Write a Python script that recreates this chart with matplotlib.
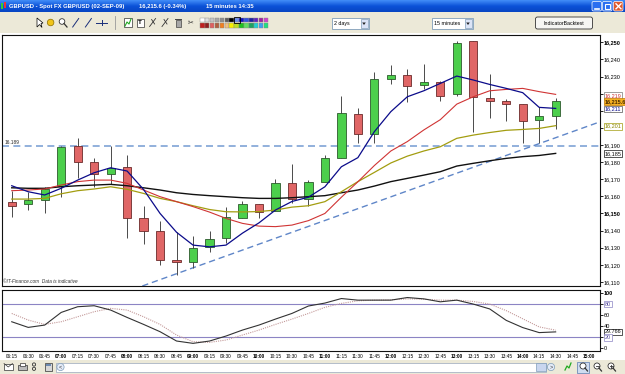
import numpy as np
import matplotlib
matplotlib.use('Agg')
import matplotlib.pyplot as plt
from matplotlib.patches import Rectangle, FancyBboxPatch, Circle, Polygon
from matplotlib.colors import LinearSegmentedColormap

plt.rcParams['font.family'] = ['Liberation Sans', 'DejaVu Sans']

# GBP/USD spot, 15 minute bars, 02-SEP-09
times = ['06:15', '06:30', '06:45', '07:00', '07:15', '07:30', '07:45', '08:00', '08:15',
         '08:30', '08:45', '09:00', '09:15', '09:30', '09:45', '10:00', '10:15', '10:30',
         '10:45', '11:00', '11:15', '11:30', '11:45', '12:00', '12:15', '12:30', '12:45',
         '13:00', '13:15', '13:30', '13:45', '14:00', '14:15', '14:30', '14:45', '15:00']
opens = [16156.9, 16155.3, 16157.6, 16166.0, 16189.4, 16179.8, 16172.8, 16177.1, 16147.1,
         16139.7, 16122.8, 16121.4, 16130.4, 16135.4, 16147.1, 16155.3, 16151.6, 16168.0,
         16158.2, 16168.6, 16182.2, 16208.1, 16196.2, 16228.4, 16230.7, 16224.9, 16226.6,
         16219.6, 16250.8, 16217.6, 16215.7, 16213.9, 16204.4, 16206.7]
closes = [16154.5, 16157.6, 16164.3, 16189.0, 16180.2, 16173.0, 16176.7, 16147.5, 16139.5,
          16123.0, 16121.4, 16129.6, 16135.0, 16147.7, 16155.3, 16151.0, 16167.6, 16158.2,
          16168.6, 16182.2, 16208.5, 16196.4, 16228.4, 16230.7, 16224.5, 16227.0, 16218.8,
          16249.4, 16217.8, 16215.5, 16213.8, 16203.8, 16206.7, 16215.6]
highs = [16163.1, 16162.3, 16165.6, 16189.5, 16193.9, 16182.6, 16189.2, 16184.1, 16154.3,
         16145.6, 16139.1, 16137.0, 16139.7, 16153.9, 16157.4, 16155.3, 16170.1, 16178.7,
         16169.5, 16184.1, 16218.8, 16211.4, 16232.5, 16236.7, 16234.4, 16237.3, 16227.6,
         16250.8, 16250.8, 16231.3, 16216.7, 16213.9, 16212.0, 16217.3]
lows = [16148.1, 16152.0, 16150.0, 16159.8, 16170.5, 16165.6, 16167.0, 16135.4, 16131.9,
        16119.8, 16114.0, 16118.3, 16127.6, 16132.5, 16147.1, 16147.5, 16151.6, 16155.9,
        16154.3, 16168.6, 16182.2, 16190.9, 16191.0, 16225.4, 16215.3, 16222.9, 16215.9,
        16218.4, 16197.8, 16205.9, 16204.2, 16191.0, 16191.0, 16199.3]

# moving averages as drawn on the chart
ma_blue = [16166.2, 16162.7, 16160.8, 16164.7, 16169.5, 16173.8, 16176.7, 16174.8, 16164.0,
           16150.0, 16139.0, 16131.5, 16130.5, 16131.5, 16138.5, 16144.5, 16152.0, 16157.0,
           16159.5, 16165.6, 16177.3, 16182.6, 16197.8, 16209.5, 16218.2, 16221.7, 16226.0,
           16230.3, 16228.0, 16225.4, 16223.1, 16220.6, 16212.0, 16211.4]
ma_red = [16163.3, 16163.7, 16164.3, 16166.6, 16168.6, 16169.5, 16169.5, 16167.6, 16163.7,
          16159.8, 16156.9, 16154.0, 16150.8, 16147.1, 16144.2, 16142.6, 16142.3, 16143.2,
          16145.8, 16150.0, 16159.5, 16168.5, 16178.0, 16186.5, 16192.0, 16198.8, 16204.8,
          16213.9, 16218.2, 16221.7, 16222.5, 16223.1, 16221.2, 16219.6]
ma_olive = [16158.4, 16158.4, 16158.8, 16161.5, 16163.3, 16164.3, 16165.6, 16164.1, 16161.7,
            16158.8, 16156.9, 16154.5, 16152.3, 16151.0, 16150.9, 16151.1, 16152.0, 16153.7,
            16154.5, 16156.9, 16162.7, 16168.6, 16174.0, 16179.5, 16183.5, 16186.5, 16189.0,
            16193.9, 16195.8, 16197.3, 16198.6, 16199.1, 16199.7, 16201.3]
ma_black = [16165.0, 16164.7, 16164.7, 16165.6, 16166.2, 16166.6, 16167.0, 16166.2, 16165.0,
            16163.7, 16162.1, 16161.1, 16160.4, 16159.8, 16159.2, 16158.8, 16158.8, 16159.2,
            16159.8, 16160.4, 16162.1, 16163.7, 16166.0, 16168.6, 16170.5, 16172.4, 16174.4,
            16177.7, 16179.3, 16180.8, 16182.2, 16183.2, 16183.9, 16185.1]

# stochastic panel
stoch_k = [48.1, 37.9, 42.1, 64.9, 75.2, 77.0, 69.2, 55.9, 43.3, 30.1, 13.3, 9.1, 13.3, 22.3,
           33.1, 42.1, 52.9, 63.1, 76.5, 81.8, 90.0, 87.1, 87.1, 87.1, 91.8, 89.4, 84.1, 87.1,
           80.0, 71.2, 50.6, 37.6, 28.5, 29.8]
stoch_d = [63.1, 51.1, 43.3, 48.1, 57.1, 66.2, 72.2, 69.2, 57.1, 43.3, 24.1, 12.1, 10.9, 15.1,
           24.1, 33.1, 43.3, 52.9, 63.1, 74.1, 81.2, 85.9, 87.1, 87.6, 89.4, 88.8, 87.1, 87.1,
           84.7, 80.0, 68.2, 53.5, 38.8, 32.9]

# drawn lines
hline_level = 16189.6
trend_idx = [17.5, 35.7]
trend_price = [16140.7, 16203.6]
price_ticks = list(range(16110, 16251, 10))
value_tags = [(16219, '16,219'), (16215.6, '16,215.6'), (16211, '16,211'),
              (16201, '16,201'), (16185, '16,185')]
stoch_ticks = [0, 20, 40, 60, 80, 100]

W, H = 625, 374
XLIM = (-0.59, 35.69)


def rect(x0, y0, x1, y1):
    # pixel box, origin top-left -> figure fraction
    return [x0 / W, 1 - y1 / H, (x1 - x0) / W, (y1 - y0) / H]


def chrome(bg):
    # title bar
    cmap = LinearSegmentedColormap.from_list('xp', ['#3f8af6', '#0c52d8', '#0846c4'])
    bg.imshow(np.linspace(0, 1, 12).reshape(-1, 1), extent=[0, W, 12, 0], aspect='auto', cmap=cmap)
    bg.add_patch(Rectangle((1, 3), 2, 6, fc='#33cc33', ec='none'))
    bg.add_patch(Rectangle((4, 2), 2, 6, fc='#ee3333', ec='none'))
    bg.text(9, 6.2, 'GBPUSD - Spot FX GBP/USD (02-SEP-09)', color='white', fontsize=4.2,
            weight='bold', va='center')
    bg.text(139, 6.2, '16,215.6 (-0.34%)', color='white', fontsize=4.2, weight='bold', va='center')
    bg.text(206, 6.2, '15 minutes 14:35', color='white', fontsize=4.2, weight='bold', va='center')
    for x0, fc in [(592, '#2b6ff0'), (602.5, '#2b6ff0'), (613.5, '#e05a2c')]:
        bg.add_patch(FancyBboxPatch((x0, 1.5), 9.5, 9.5, boxstyle='round,pad=0,rounding_size=1.5',
                                    fc=fc, ec='white', lw=0.5))
    bg.plot([594.5, 598.5], [8.8, 8.8], color='white', lw=1.2)
    bg.add_patch(Rectangle((604.8, 3.8), 5, 5, fc='none', ec='white', lw=0.8))
    bg.plot([616, 621], [3.8, 8.8], color='white', lw=1)
    bg.plot([616, 621], [8.8, 3.8], color='white', lw=1)

    # toolbar
    bg.add_patch(Rectangle((0, 12), W, 21, fc='#ece9d8', ec='none'))
    bg.add_patch(Polygon([(37, 18), (37, 27), (39.5, 24.5), (42, 27.5), (41, 23.5), (43, 23)],
                         fc='white', ec='black', lw=0.5))
    bg.add_patch(Circle((50.6, 22.5), 3.3, fc='#f0c419', ec='#8a6d00', lw=0.5))
    bg.add_patch(Circle((62, 21.5), 2.8, fc='white', ec='#333', lw=0.6))
    bg.plot([64, 67], [23.5, 27], color='#333', lw=0.9)
    for xc in (75.7, 88.4):
        bg.plot([xc - 3, xc + 3], [27, 18.5], color='#1a2f7a', lw=0.7)
    bg.plot([96, 107], [22.5, 22.5], color='#1a2f7a', lw=0.7)
    bg.plot([101.5, 101.5], [20, 25], color='#1a2f7a', lw=0.7)
    bg.plot([115, 115], [16, 29], color='#999', lw=0.6)
    bg.add_patch(Rectangle((124, 18), 8, 9, fc='white', ec='#333', lw=0.5))
    bg.plot([125, 127, 129, 131], [26, 22, 24, 19], color='#22aa22', lw=0.8)
    bg.add_patch(Rectangle((136.5, 18.5), 7.5, 8, fc='white', ec='#333', lw=0.5))
    bg.text(140.2, 22.8, 'T', fontsize=4.5, weight='bold', ha='center', va='center')
    for xc in (152.6, 165):
        bg.plot([xc - 3, xc + 3], [26.5, 18.5], color='#333', lw=0.6)
        bg.plot([xc - 1, xc + 2], [19.5, 24], color='#333', lw=0.6)
    bg.add_patch(Rectangle((175.5, 19.5), 5, 7, fc='#a8a8a8', ec='#444', lw=0.5))
    bg.plot([175, 181], [19, 19], color='#444', lw=0.7)
    bg.text(191, 22.8, '\u2702', fontsize=5, ha='center', va='center', color='#333',
            family=['DejaVu Sans'])
    top_row = ['#ffffff', '#e0e0e0', '#c4c4c4', '#a8a8a8', '#8c8c8c', '#5c5c5c', '#000000',
               '#6a8ff0', '#1010c0', '#3050e0', '#2020a0', '#6020c0', '#a020a0', '#d040d0']
    bottom_row = ['#c02020', '#902020', '#e06060', '#b06040', '#f08020', '#f0c080', '#f8f000',
                  '#c0e020', '#20c020', '#60e060', '#20a060', '#20d0d0', '#40a0f0', '#20e080']
    for k, col in enumerate(top_row):
        bg.add_patch(Rectangle((200 + k * 4.9, 17.5), 4.5, 4.8, fc=col, ec='#888', lw=0.3))
    for k, col in enumerate(bottom_row):
        bg.add_patch(Rectangle((200 + k * 4.9, 23), 4.5, 4.8, fc=col, ec='#888', lw=0.3))
    bg.add_patch(Rectangle((233.8, 16.8), 5.9, 6.2, fc='none', ec='#000', lw=0.6))

    for x0, x1, label in [(331.5, 368.5, '2 days'), (432, 472.5, '15 minutes')]:
        bg.add_patch(Rectangle((x0, 18), x1 - x0, 11, fc='white', ec='#7f9db9', lw=0.6))
        bg.text(x0 + 2.5, 23.6, label, fontsize=3.8, va='center')
        bg.add_patch(Rectangle((x1 - 8, 19), 7, 9, fc='#dbe4f7', ec='#7f9db9', lw=0.5))
        bg.add_patch(Polygon([(x1 - 6.3, 22.5), (x1 - 2.7, 22.5), (x1 - 4.5, 25)], fc='#222'))
    bg.add_patch(FancyBboxPatch((535.5, 17), 57, 12, boxstyle='round,pad=0,rounding_size=2',
                                fc='#f6f6f3', ec='#333', lw=0.6))
    bg.text(564, 23.2, 'IndicatorBacktest', fontsize=3.8, ha='center', va='center')

    # bottom toolbar
    bg.add_patch(Rectangle((0, 360), W, 14, fc='#ece9d8', ec='none'))
    bg.add_patch(Rectangle((4, 363.5), 8.5, 6, fc='white', ec='#333', lw=0.5))
    bg.plot([4, 8.25, 12.5], [363.5, 367, 363.5], color='#333', lw=0.5)
    bg.add_patch(Rectangle((17.5, 365), 9, 4.5, fc='#bbb', ec='#333', lw=0.5))
    bg.add_patch(Rectangle((19.5, 362.5), 5, 3, fc='white', ec='#333', lw=0.5))
    bg.add_patch(Circle((34, 364.5), 1.6, fc='none', ec='#333', lw=0.6))
    bg.add_patch(Circle((34, 368.8), 1.6, fc='none', ec='#333', lw=0.6))
    bg.add_patch(Rectangle((44.5, 362.5), 7.5, 8.5, fc='#d8d8d8', ec='#333', lw=0.5))
    bg.add_patch(Rectangle((46, 363.8), 4.5, 2, fc='#6c8ab0', ec='none'))
    bg.add_patch(Rectangle((56, 362.5), 490, 9, fc='white', ec='#9aa7bd', lw=0.5))
    bg.add_patch(Circle((60.5, 367), 3.6, fc='#e4ebf8', ec='#7f9db9', lw=0.5))
    bg.text(60.5, 367, '<', fontsize=4, ha='center', va='center', color='#333')
    bg.add_patch(Rectangle((536, 363.2), 10, 7.6, fc='#c9d6ef', ec='#7f9db9', lw=0.5))
    bg.add_patch(Circle((551, 367), 3.6, fc='#e4ebf8', ec='#7f9db9', lw=0.5))
    bg.text(551, 367, '>', fontsize=4, ha='center', va='center', color='#333')
    bg.plot([565, 567, 569, 571], [370, 366, 368, 363], color='#22aa22', lw=0.9)
    bg.add_patch(Rectangle((577, 361.5), 12, 11, fc='#cfdcf0', ec='#5a7ab0', lw=0.5))
    for xc in (583, 597, 611):
        bg.add_patch(Circle((xc, 366), 3, fc='white', ec='#333', lw=0.6))
        bg.plot([xc + 2, xc + 4.5], [368, 371], color='#333', lw=0.9)
    bg.plot([595.5, 598.5], [366, 366], color='#333', lw=0.6)
    bg.plot([609.5, 612.5], [366, 366], color='#333', lw=0.6)
    bg.plot([611, 611], [364.5, 367.5], color='#333', lw=0.6)
    bg.set_xlim(0, W)
    bg.set_ylim(H, 0)


def tag(ax, y, label, color, fc, ec, weight='normal'):
    ax.text(1.008, y, label, transform=ax.get_yaxis_transform(), fontsize=4, color=color,
            va='center', ha='left', weight=weight, clip_on=False, zorder=10,
            bbox=dict(boxstyle='square,pad=0.15', fc=fc, ec=ec, lw=0.5))


def main():
    fig = plt.figure(figsize=(W / 100, H / 100), dpi=100)
    fig.patch.set_facecolor('white')
    bg = fig.add_axes([0, 0, 1, 1])
    bg.axis('off')
    chrome(bg)

    # price chart
    ax = fig.add_axes(rect(2, 35, 600, 286))
    x = np.arange(len(opens))
    o = np.array(opens)
    c = np.array(closes)
    up = c >= o
    ax.vlines(x, lows, highs, color='#4a4a4a', lw=0.7, zorder=2)
    ax.bar(x[up], (c - o)[up], bottom=o[up], width=0.5, color='#4ccf4c',
           edgecolor='#2d5a2d', lw=0.6, zorder=3)
    ax.bar(x[~up], (o - c)[~up], bottom=c[~up], width=0.5, color='#e06666',
           edgecolor='#6b2a2a', lw=0.6, zorder=3)
    ax.axhline(hline_level, color='#7fa3d6', lw=1.2, ls=(0, (4.2, 2.6)), zorder=1)
    ax.axline((trend_idx[0], trend_price[0]), (trend_idx[1], trend_price[1]),
              color='#5f86c8', lw=1.0, ls=(0, (4.5, 2.8)), zorder=1)
    ax.plot(x, ma_black, color='#111111', lw=1.0, zorder=4)
    ax.plot(x, ma_olive, color='#a39d10', lw=0.9, zorder=4)
    ax.plot(x, ma_red, color='#d03434', lw=0.8, zorder=4)
    ax.plot(x, ma_blue, color='#0b0b8a', lw=0.9, zorder=5)
    ax.text(0.005, hline_level + 0.6, '16.189', transform=ax.get_yaxis_transform(),
            fontsize=3.4, va='bottom', ha='left', color='#222')
    ax.text(0.002, 0.008, '\u00a9IT-Finance.com  Data is indicative', transform=ax.transAxes,
            fontsize=3.4, style='italic', va='bottom', ha='left', color='#333')
    ax.set_xlim(*XLIM)
    ax.set_ylim(16107.6, 16254.3)
    ax.set_xticks([])
    ax.yaxis.tick_right()
    ax.set_yticks(price_ticks)
    hidden = {16200, 16210, 16220}
    ax.set_yticklabels(['' if t in hidden else f'{t:,}' for t in price_ticks])
    for t, lab in zip(price_ticks, ax.get_yticklabels()):
        if t % 50 == 0:
            lab.set_fontweight('bold')
    ax.tick_params(axis='y', labelsize=4, length=2, width=0.6, pad=0.8)
    for s in ax.spines.values():
        s.set_color('#111')
        s.set_linewidth(0.8)
    tag_styles = [('#cc3333', 'white', '#777', 'normal'), ('#4a2c00', '#f5b021', '#c07800', 'bold'),
                  ('#0b0b8a', 'white', '#555', 'normal'), ('#8a8500', 'white', '#a39d10', 'normal'),
                  ('#111', 'white', '#111', 'normal')]
    for (y, label), (col, fc, ec, wt) in zip(value_tags, tag_styles):
        tag(ax, y, label, col, fc, ec, wt)

    # stochastic panel
    ax2 = fig.add_axes(rect(2, 290, 600, 351))
    ax2.axhline(80, color='#8c84c4', lw=0.8, zorder=1)
    ax2.axhline(20, color='#8c84c4', lw=0.8, zorder=1)
    ax2.plot(x, stoch_d, color='#c49a9a', lw=0.8, ls=(0, (1, 1)), zorder=2)
    ax2.plot(x, stoch_k, color='#333333', lw=0.8, zorder=3)
    ax2.set_xlim(*XLIM)
    ax2.set_ylim(-4.7, 105.4)
    ax2.yaxis.tick_right()
    ax2.set_yticks(stoch_ticks)
    ax2.set_yticklabels(['0', '', '40', '60', '', '100'])
    ax2.get_yticklabels()[-1].set_fontweight('bold')
    ax2.tick_params(axis='y', labelsize=4, length=2, width=0.6, pad=0.8)
    ax2.set_xticks(range(len(times)))
    ax2.set_xticklabels(times)
    for lab in ax2.get_xticklabels():
        if lab.get_text().endswith(':00'):
            lab.set_fontweight('bold')
    ax2.tick_params(axis='x', labelsize=3.4, length=0, pad=2.2)
    for s in ax2.spines.values():
        s.set_color('#111')
        s.set_linewidth(0.8)
    tag(ax2, 80, '80', '#5a50a0', 'white', '#8c84c4')
    tag(ax2, stoch_k[-1], '29.766', '#111', 'white', '#111')
    tag(ax2, 20, '20', '#5a50a0', 'white', '#8c84c4')

    fig.savefig('out.png', dpi=100)


if __name__ == '__main__':
    main()
